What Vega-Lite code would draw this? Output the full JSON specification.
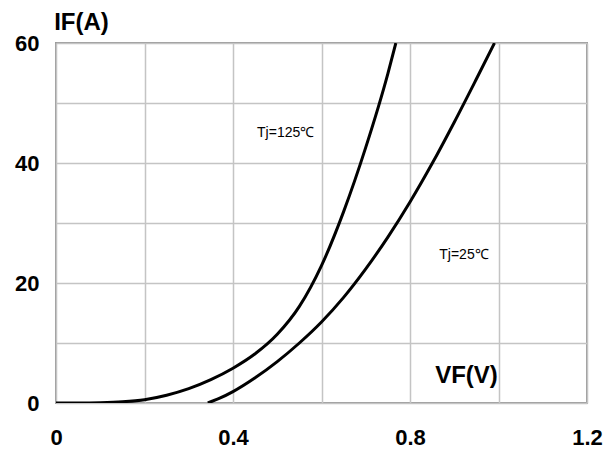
{
  "$schema": "https://vega.github.io/schema/vega-lite/v6.json",
  "width": 531,
  "height": 360,
  "autosize": {"type": "none"},
  "padding": {"left": 56, "top": 43, "right": 21, "bottom": 50},
  "background": "white",
  "config": {
    "view": {"stroke": "#9a9a9a", "strokeWidth": 2},
    "font": "Liberation Sans"
  },
  "datasets": {
    "curves": [
      {"volt": 0, "amp": 0, "tj": "125"},
      {"volt": 0.05, "amp": 0, "tj": "125"},
      {"volt": 0.1, "amp": 0.05, "tj": "125"},
      {"volt": 0.15, "amp": 0.2, "tj": "125"},
      {"volt": 0.2, "amp": 0.55, "tj": "125"},
      {"volt": 0.25, "amp": 1.3, "tj": "125"},
      {"volt": 0.3, "amp": 2.4, "tj": "125"},
      {"volt": 0.35, "amp": 3.9, "tj": "125"},
      {"volt": 0.4, "amp": 5.8, "tj": "125"},
      {"volt": 0.45, "amp": 8.2, "tj": "125"},
      {"volt": 0.5, "amp": 11.45, "tj": "125"},
      {"volt": 0.55, "amp": 16.1, "tj": "125"},
      {"volt": 0.6, "amp": 22.9, "tj": "125"},
      {"volt": 0.65, "amp": 31.9, "tj": "125"},
      {"volt": 0.7, "amp": 42.6, "tj": "125"},
      {"volt": 0.75, "amp": 54.9, "tj": "125"},
      {"volt": 0.768, "amp": 60, "tj": "125"},
      {"volt": 0.343, "amp": 0, "tj": "25"},
      {"volt": 0.37, "amp": 0.8, "tj": "25"},
      {"volt": 0.4, "amp": 1.9, "tj": "25"},
      {"volt": 0.45, "amp": 4.2, "tj": "25"},
      {"volt": 0.5, "amp": 6.9, "tj": "25"},
      {"volt": 0.55, "amp": 10, "tj": "25"},
      {"volt": 0.6, "amp": 13.5, "tj": "25"},
      {"volt": 0.65, "amp": 17.6, "tj": "25"},
      {"volt": 0.7, "amp": 22.35, "tj": "25"},
      {"volt": 0.75, "amp": 27.65, "tj": "25"},
      {"volt": 0.8, "amp": 33.5, "tj": "25"},
      {"volt": 0.85, "amp": 39.9, "tj": "25"},
      {"volt": 0.9, "amp": 46.8, "tj": "25"},
      {"volt": 0.95, "amp": 54, "tj": "25"},
      {"volt": 0.991, "amp": 60, "tj": "25"}
    ],
    "labels": [
      {"volt": 0.519, "amp": 45, "text": "Tj=125℃"},
      {"volt": 0.922, "amp": 24.7, "text": "Tj=25℃"}
    ]
  },
  "layer": [
    {
      "data": {"name": "curves"},
      "mark": {"type": "line", "interpolate": "monotone", "color": "black", "strokeWidth": 3, "clip": true},
      "encoding": {
        "x": {
          "field": "volt", "type": "quantitative",
          "scale": {"domain": [0, 1.2], "nice": false},
          "axis": {
            "values": [0, 0.2, 0.4, 0.6, 0.8, 1.0, 1.2],
            "format": ".1~f",
            "labelExpr": "datum.label == '0' || datum.label == '0.4' || datum.label == '0.8' || datum.label == '1.2' ? datum.label : ''",
            "domain": false, "ticks": false,
            "grid": true, "gridColor": "#c4c4c4", "gridWidth": 1.5, "gridOpacity": 1,
            "labelFont": "Liberation Sans", "labelFontSize": 22, "labelFontWeight": "bold", "labelColor": "black",
            "labelPadding": 24, "labelFlush": false, "labelOverlap": false,
            "title": "VF(V)", "titleFont": "Liberation Sans", "titleFontSize": 24, "titleFontWeight": "bold", "titleColor": "black",
            "titleX": 410, "titleY": -28, "titleAlign": "center", "titleBaseline": "middle", "titleAnchor": null
          }
        },
        "y": {
          "field": "amp", "type": "quantitative",
          "scale": {"domain": [0, 60], "nice": false},
          "axis": {
            "values": [0, 10, 20, 30, 40, 50, 60],
            "labelExpr": "datum.value % 20 == 0 ? datum.label : ''",
            "domain": false, "ticks": false,
            "grid": true, "gridColor": "#c4c4c4", "gridWidth": 1.5, "gridOpacity": 1,
            "labelFont": "Liberation Sans", "labelFontSize": 22, "labelFontWeight": "bold", "labelColor": "black",
            "labelPadding": 17, "labelFlush": false, "labelOverlap": false,
            "title": "IF(A)", "titleFont": "Liberation Sans", "titleFontSize": 24, "titleFontWeight": "bold", "titleColor": "black",
            "titleAngle": 0, "titleX": 25, "titleY": -21, "titleAlign": "center", "titleBaseline": "middle", "titleAnchor": null
          }
        },
        "detail": {"field": "tj"}
      }
    },
    {
      "data": {"name": "labels"},
      "mark": {"type": "text", "font": "Liberation Sans", "fontSize": 14, "color": "black", "align": "center", "baseline": "middle"},
      "encoding": {
        "x": {"field": "volt", "type": "quantitative"},
        "y": {"field": "amp", "type": "quantitative"},
        "text": {"field": "text"}
      }
    }
  ]
}
